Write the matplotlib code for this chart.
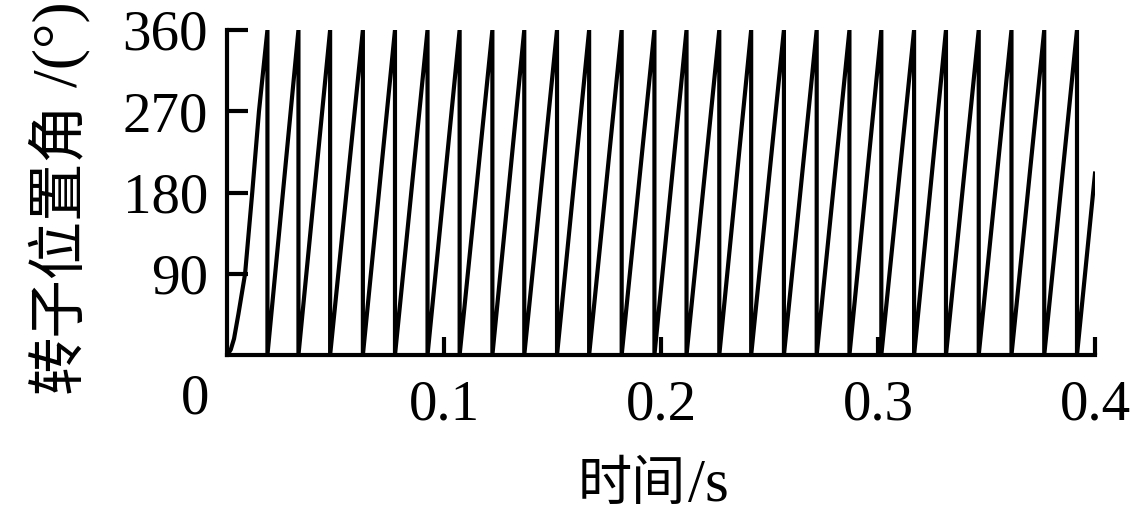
import matplotlib
matplotlib.use("Agg")
import matplotlib.pyplot as plt
import numpy as np

# ---- data ----
startup_t = [0.0, 0.0016, 0.0031, 0.0051, 0.0082, 0.0115, 0.0146, 0.0185]
startup_deg = [0, 6, 18, 45, 90, 180, 270, 360]
reset_times = [0.0185, 0.0328, 0.0474, 0.0625, 0.0773, 0.0923, 0.1071, 0.1222,
               0.1369, 0.1520, 0.1668, 0.1818, 0.1969, 0.2117, 0.2268, 0.2415,
               0.2566, 0.2717, 0.2868, 0.3015, 0.3166, 0.3313, 0.3464, 0.3615,
               0.3766, 0.3917]
end_t = 0.4
end_deg = 201
x_ticks = [0.1, 0.2, 0.3, 0.4]
x_ticklabels = ["0.1", "0.2", "0.3", "0.4"]
y_ticks = [90, 180, 270, 360]
y_ticklabels = ["90", "180", "270", "360"]

# build the sawtooth path from the read values
t = list(startup_t)
d = list(startup_deg)
for i, r in enumerate(reset_times):
    t.append(r); d.append(0)
    if i + 1 < len(reset_times):
        t.append(reset_times[i + 1]); d.append(360)
t.append(end_t); d.append(end_deg)

W, H = 1134, 516
fig = plt.figure(figsize=(W / 100, H / 100), dpi=100)
ax = fig.add_axes([227.3 / W, 1 - 355 / H, (1095 - 227.3) / W, (355 - 30) / H])

lw = 3.0
ax.plot(t, d, color="black", lw=lw)
ax.set_xlim(0, 0.4)
ax.set_ylim(0, 360)

for s in ["top", "right"]:
    ax.spines[s].set_visible(False)
for s in ["left", "bottom"]:
    ax.spines[s].set_linewidth(lw)

serif = "Liberation Serif"
cjk = "Noto Sans CJK SC"
fs = 41
ax.set_xticks(x_ticks)
ax.set_xticklabels(x_ticklabels, fontfamily=serif, fontsize=fs)
ax.set_yticks(y_ticks)
ax.set_yticklabels(y_ticklabels, fontfamily=serif, fontsize=fs)
ax.tick_params(axis="x", direction="in", length=13, width=lw, pad=18)
ax.tick_params(axis="y", direction="in", length=15, width=lw, pad=14)

ax.annotate("0", xy=(0, 0), xycoords="data", xytext=(-32, -45),
            textcoords="offset pixels", ha="center", va="center",
            fontfamily=serif, fontsize=fs)

# x label: CJK part + serif part
fig.text(686 / W, 1 - 500 / H, "时间", fontfamily=cjk,
         fontsize=39, ha="right", va="baseline")
fig.text(688 / W, 1 - 501 / H, "/s", fontfamily=serif,
         fontsize=44, ha="left", va="baseline")

# y label: CJK part + serif part (rotated)
fig.text(58 / W, 1 - 393 / H, "转子位置角", fontfamily=cjk,
         fontsize=42, rotation=90, ha="center", va="bottom")
fig.text(61 / W, 1 - 1 / H, "/(°)", fontfamily=serif,
         fontsize=46, rotation=90, ha="center", va="top")

fig.savefig("out.png", dpi=100)
